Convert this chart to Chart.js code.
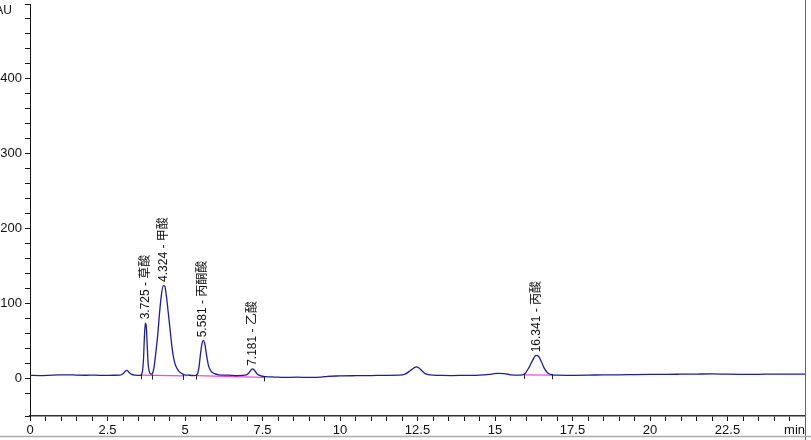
<!DOCTYPE html>
<html>
<head>
<meta charset="utf-8">
<script src="https://cdn.jsdelivr.net/npm/chart.js@4.4.1/dist/chart.umd.min.js"></script>
<style>
  html, body { margin: 0; padding: 0; background: #fff; }
  #wrap { width: 811px; height: 440px; position: relative; }
</style>
</head>
<body>
<div id="wrap"><canvas id="chart"></canvas></div>
<script>
// retention time (min) and detector signal (mAU)
const times = [
  0, 0.3, 0.6, 0.9, 1.2, 1.5, 1.8, 2.1, 2.4, 2.7, 2.9,
  3.0, 3.08, 3.13, 3.2, 3.28, 3.4, 3.55,
  3.62, 3.66, 3.69, 3.72, 3.75, 3.78, 3.81, 3.85, 3.9, 3.95,
  4.0, 4.06, 4.12, 4.18, 4.24, 4.3, 4.35, 4.4, 4.46, 4.52, 4.58, 4.64, 4.7, 4.78, 4.88, 4.98,
  5.1, 5.3, 5.4, 5.45, 5.5, 5.55, 5.59, 5.64, 5.7, 5.76, 5.84, 5.95,
  6.1, 6.4, 6.7, 6.95, 7.05, 7.13, 7.18, 7.24, 7.32, 7.45, 7.6,
  7.9, 8.2, 8.6, 9.0, 9.4, 9.6, 10, 10.5, 11, 11.5, 11.9,
  12.1, 12.25, 12.38, 12.47, 12.55, 12.65, 12.75, 12.9,
  13.2, 13.6, 14, 14.5, 14.9, 15.1, 15.3, 15.5, 15.8,
  15.95, 16.1, 16.22, 16.32, 16.4, 16.5, 16.6, 16.7, 16.85,
  17, 17.5, 18, 18.5, 19, 19.5, 20, 20.5, 21, 21.5, 22, 22.5, 23, 23.5, 24, 24.5, 25
];
const signal = [
  4.2, 4.0, 4.3, 4.8, 5.0, 4.6, 4.4, 4.5, 4.2, 4.4, 4.6,
  6.5, 10, 11, 8, 5.5, 4.5, 4.2,
  8, 25, 55, 74, 70, 45, 20, 9, 6, 7,
  15, 35, 58, 88, 112, 124, 123, 110, 88, 65, 42, 26, 17, 11, 7, 5,
  4.5, 4, 6, 15, 33, 47, 51, 46, 30, 17, 10, 6.5,
  5, 4.5, 4, 4.5, 7, 11.5, 13, 11, 6.5, 3.5, 2.5,
  2, 1.5, 1.8, 1.5, 2, 3, 3.5, 3.8, 4, 4.3, 4.5,
  6, 10, 14, 15.5, 14, 10, 6.5, 4.8,
  4.3, 4, 4.2, 4.5, 6, 7, 6.5, 5, 4.5,
  6, 15, 25, 31, 30, 22, 13, 7.5, 5,
  4.5, 4.3, 4.5, 5, 5, 5.3, 5.5, 5.6, 5.8, 6.0, 6.2, 5.8, 5.6, 5.7, 6.0, 5.8, 5.8
];

// integrated peaks
const peakTimes = [3.725, 4.324, 5.581, 7.181, 16.341];
const peakHeights = [75, 125, 51, 13, 31];
const peakNames = ['草酸', '甲酸', '丙酮酸', '乙酸', '丙酸'];

// integration baselines (pink) and their start / end marks
const baseStarts = [3.58, 5.35, 15.95];
const baseEnds = [4.95, 7.55, 16.85];
const baseStartVals = [4.5, 4.0, 5.0];
const baseEndVals = [3.5, 1.5, 4.5];
const markTimes = [3.58, 3.93, 4.95, 5.35, 7.55, 15.95, 16.85];
const markVals = [4.5, 4.0, 3.5, 4.0, 1.5, 5.0, 4.5];

const xLabelStep = 2.5;
const yLabelStep = 100;

const datasets = [{
  data: times.map((t, i) => ({ x: t, y: signal[i] })),
  borderColor: '#1c1caa',
  borderWidth: 1.3,
  pointRadius: 0,
  cubicInterpolationMode: 'monotone',
  order: 1
}];
baseStarts.forEach((s, i) => {
  datasets.push({
    data: [{ x: s, y: baseStartVals[i] }, { x: baseEnds[i], y: baseEndVals[i] }],
    borderColor: '#ff44dd',
    borderWidth: 1.3,
    pointRadius: 0,
    order: 2
  });
});

const extras = {
  id: 'extras',
  afterDatasetsDraw(chart) {
    const ctx = chart.ctx, x = chart.scales.x, y = chart.scales.y;
    ctx.save();
    // integration marks
    ctx.strokeStyle = '#222';
    ctx.lineWidth = 1;
    markTimes.forEach((t, i) => {
      const px = Math.round(x.getPixelForValue(t)) + 0.5;
      const py = y.getPixelForValue(markVals[i]);
      ctx.beginPath();
      ctx.moveTo(px, py - 1);
      ctx.lineTo(px, py + 4);
      ctx.stroke();
    });
    // peak labels
    ctx.fillStyle = '#111';
    ctx.font = '12px "Liberation Sans", "Noto Sans CJK SC", sans-serif';
    ctx.textAlign = 'left';
    ctx.textBaseline = 'middle';
    peakTimes.forEach((t, i) => {
      const px = x.getPixelForValue(t);
      const py = y.getPixelForValue(peakHeights[i]) - 3;
      ctx.save();
      ctx.translate(px, py);
      ctx.rotate(-Math.PI / 2);
      ctx.fillText(t.toFixed(3) + ' - ' + peakNames[i], 0, 0);
      ctx.restore();
    });
    ctx.restore();
  },
  afterDraw(chart) {
    const ctx = chart.ctx, area = chart.chartArea;
    ctx.save();
    ctx.fillStyle = '#111';
    ctx.font = '12px "Liberation Sans", sans-serif';
    ctx.textBaseline = 'middle';
    ctx.textAlign = 'right';
    ctx.fillText('mAU', 12, 11);
    ctx.font = '13px "Liberation Sans", sans-serif';
    ctx.fillText('min', 805, 430);
    ctx.strokeStyle = '#666';
    ctx.lineWidth = 1;
    ctx.beginPath();
    ctx.moveTo(area.right + 0.5, 0);
    ctx.lineTo(area.right + 0.5, 440);
    ctx.stroke();
    ctx.strokeStyle = '#aaa';
    ctx.lineWidth = 1.5;
    ctx.beginPath();
    ctx.moveTo(0, 436.5);
    ctx.lineTo(811, 436.5);
    ctx.stroke();
    ctx.restore();
  }
};

new Chart(document.getElementById('chart'), {
  type: 'line',
  data: { datasets: datasets },
  options: {
    responsive: true,
    maintainAspectRatio: false,
    animation: false,
    layout: { padding: { top: 4, right: 6, left: 0, bottom: 0 } },
    plugins: { legend: { display: false }, tooltip: { enabled: false } },
    scales: {
      x: {
        type: 'linear',
        min: 0,
        max: 25,
        afterFit(scale) { scale.height = 24; },
        border: { display: true, color: '#333', width: 1.5 },
        grid: { display: true, drawOnChartArea: false, drawTicks: true, tickLength: 5, color: '#111' },
        ticks: {
          stepSize: 0.5,
          autoSkip: false,
          maxRotation: 0,
          padding: 2,
          color: '#111',
          font: { family: '"Liberation Sans", sans-serif', size: 13 },
          callback(v) {
            if (v >= 25) return '';
            return Math.abs(v / xLabelStep - Math.round(v / xLabelStep)) < 1e-6 ? String(v) : '';
          }
        }
      },
      y: {
        min: -50,
        max: 500,
        afterFit(scale) { scale.width = 30; scale.paddingTop = 0; scale.paddingBottom = 0; },
        border: { display: true, color: '#111', width: 1 },
        grid: { display: true, drawOnChartArea: false, drawTicks: true, tickLength: 5, color: '#111' },
        ticks: {
          stepSize: 20,
          autoSkip: false,
          padding: 3,
          color: '#111',
          font: { family: '"Liberation Sans", sans-serif', size: 13 },
          callback(v) {
            if (v < 0 || v >= 500) return '';
            return v % yLabelStep === 0 ? String(v) : '';
          }
        }
      }
    }
  },
  plugins: [extras]
});
</script>
</body>
</html>
